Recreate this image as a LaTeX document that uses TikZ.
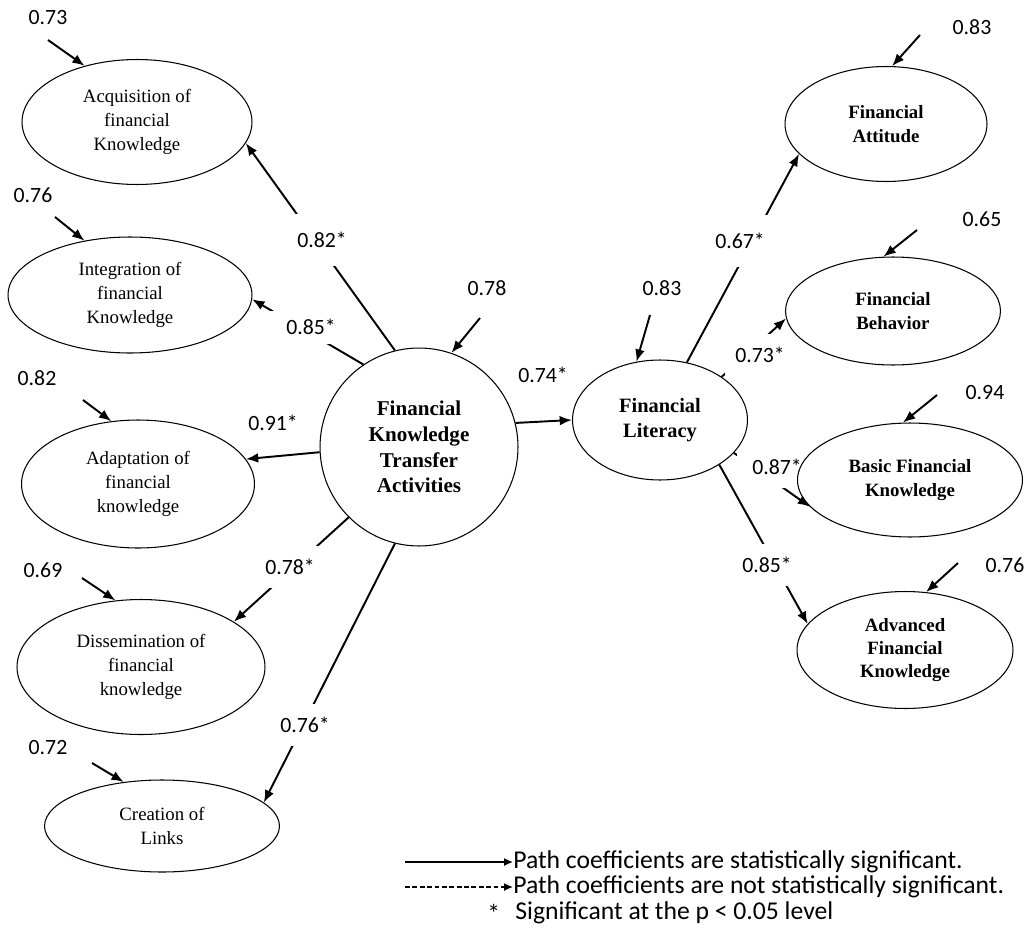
\documentclass[tikz,border=0pt]{standalone}
\usepackage{fontspec}
\setmainfont{Liberation Serif}
\newfontfamily\calibri{Carlito}
\usetikzlibrary{shapes.geometric, arrows.meta, positioning, backgrounds}

\tikzset{
  latent/.style={draw, ellipse, line width=0.6pt, inner sep=0pt, align=center, font=\fontsize{10.7}{13.5}\selectfont},
  latentbf/.style={latent, font=\fontsize{10.7}{13.3}\selectfont\bfseries},
  link/.style={-{Latex[length=7pt,width=5.5pt]}, line width=1.1pt},
  coef/.style={fill=white, inner sep=0pt, minimum width=1.6cm, minimum height=0.84cm, font=\calibri\fontsize{12.4}{14}\selectfont},
  err/.style={font=\calibri\fontsize{12.4}{14}\selectfont},
  legtext/.style={anchor=west, inner sep=0pt, font=\calibri\fontsize{14.6}{16}\selectfont},
}

\begin{document}
\begin{tikzpicture}[x=0.02cm, y=-0.02cm]
\useasboundingbox (0,0) rectangle (1028,933);

% Knowledge transfer dimensions
\node[latent, minimum width=4.6cm, minimum height=2.5cm] (acq) at (137,122) {Acquisition of\\financial\\Knowledge};
\node[latent, minimum width=4.88cm, minimum height=2.32cm] (int) at (130,295) {Integration of\\financial\\Knowledge};
\node[latent, minimum width=4.66cm, minimum height=2.56cm] (adp) at (138,484) {Adaptation of\\financial\\knowledge};
\node[latent, minimum width=4.96cm, minimum height=2.7cm] (dis) at (141,667) {Dissemination of\\financial\\knowledge};
\node[latent, minimum width=4.7cm, minimum height=1.84cm] (lnk) at (162,826) {Creation of\\Links};

% Core constructs
\node[draw, circle, line width=0.6pt, inner sep=0pt, minimum size=3.96cm, align=center,
      font=\fontsize{12}{14.6}\selectfont\bfseries] (fkta) at (419,447) {Financial\\Knowledge\\Transfer\\Activities};
\node[latentbf, minimum width=3.5cm, minimum height=2.4cm, font=\fontsize{11.6}{14.6}\selectfont\bfseries] (lit) at (660,420) {Financial\\Literacy};

% Literacy dimensions
\node[latentbf, minimum width=4.04cm, minimum height=2.3cm] (att) at (886,124) {Financial\\Attitude};
\node[latentbf, minimum width=4.3cm, minimum height=2.16cm] (beh) at (893,311) {Financial\\Behavior};
\node[latentbf, minimum width=4.5cm, minimum height=2.28cm] (bas) at (910,480) {Basic Financial\\Knowledge};
\node[latentbf, minimum width=4.32cm, minimum height=2.34cm] (adv) at (905,650) {Advanced\\Financial\\Knowledge};

% Paths and coefficients
\begin{scope}[on background layer]
\draw[link] (fkta.104) -- (acq.-11);
\draw[link] (fkta.124) -- (int.-2);
\draw[link] (fkta.183) -- (adp.13);
\draw[link] (fkta.225) -- (dis.26);
\draw[link] (fkta.256) -- (lnk.13);
\draw[link] (fkta.14) -- (lit.west);
\draw[link] (lit.65) -- (att.199);
\draw[link] (lit.35) -- (beh.184);
\draw[link] (lit.-24) -- (bas.195);
\draw[link] (lit.-37) -- (adv.165);

\node[coef, minimum height=1.04cm] (c82) at (322,240) {0.82*};
\node[coef, minimum width=1.84cm, minimum height=0.66cm] (c85a) at (311,327) {0.85*};
\node[coef] (c91) at (273,423) {0.91*};
\node[coef] (c78) at (290,567) {0.78*};
\node[coef] (c76) at (305,725) {0.76*};
\node[coef] (c74) at (543,375) {0.74*};
\node[coef, minimum height=1.04cm] (c67) at (740,241) {0.67*};
\node[coef, minimum width=1.4cm] (c73) at (760,355) {0.73*};
\node[coef] (c87) at (777,467) {0.87*};
\node[coef] (c85b) at (767,565) {0.85*};
\end{scope}

% Error terms
\node[err] (r73) at (48,18) {0.73};
\draw[link] (48,40) coordinate (t73) -- (acq.133);
\node[err] (r76) at (33,195) {0.76};
\draw[link] (55,217) coordinate (t76) -- (int.130);
\node[err] (r82) at (37,378) {0.82};
\draw[link] (83,400) coordinate (t82) -- (adp.113);
\node[err] (r69) at (43,570) {0.69};
\draw[link] (82,578) coordinate (t69) -- (dis.111);
\node[err] (r72) at (48,748) {0.72};
\draw[link] (92,763) coordinate (t72) -- (lnk.131);
\node[err] (r78) at (487,288) {0.78};
\draw[link] (480,318) coordinate (t78) -- (fkta.71);
\node[err] (r83a) at (662,288) {0.83};
\draw[link] (650,315) coordinate (t83a) -- (lit.112);
\node[err] (r83b) at (972,27) {0.83};
\draw[link] (920,35) coordinate (t83b) -- (att.84);
\node[err] (r65) at (982,219) {0.65};
\draw[link] (917,230) coordinate (t65) -- (beh.100);
\node[err] (r94) at (985,393) {0.94};
\draw[link] (937,395) coordinate (t94) -- (bas.97);
\node[err] (r76b) at (1005,565) {0.76};
\draw[link] (958,563) coordinate (t76b) -- (adv.70);

% Legend
\node[legtext] (leg1) at (513,862) {Path coefficients are statistically significant.};
\node[legtext] (leg2) at (513,887) {Path coefficients are not statistically significant.};
\node[legtext] (leg3) at (515,913) {Significant at the p < 0.05 level};
\node[legtext] (star) at (487,913) {*};
\draw[-{Latex[length=5pt,width=4.5pt]}, line width=0.8pt] (405,862) coordinate (s1) -- (leg1.west);
\draw[-{Latex[length=5pt,width=4.5pt]}, line width=0.8pt, dash pattern=on 2.8pt off 1.4pt] (405,887) coordinate (s2) -- (leg2.west);
\end{tikzpicture}
\end{document}
